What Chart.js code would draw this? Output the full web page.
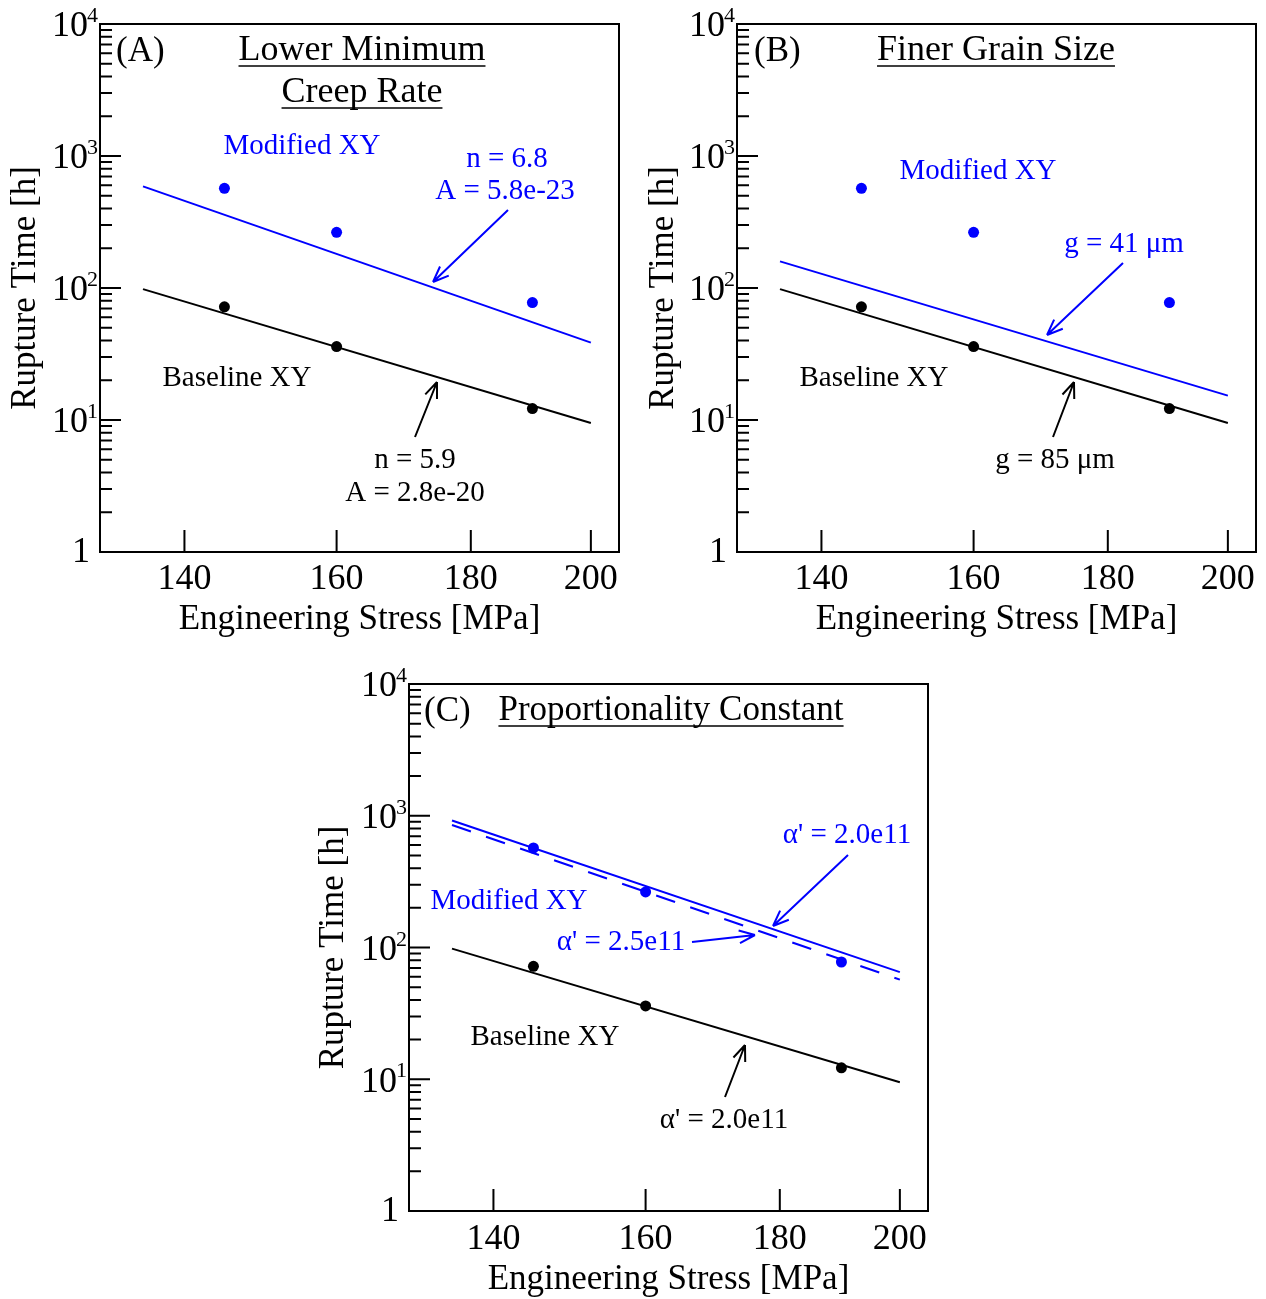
<!DOCTYPE html>
<html>
<head>
<meta charset="utf-8">
<script src="https://cdn.jsdelivr.net/npm/chart.js@4.4.1/dist/chart.umd.min.js"></script>
<style>
body{margin:0;background:#fff;width:1266px;height:1299px;position:relative;overflow:hidden}
canvas{position:absolute}
</style>
</head>
<body>
<canvas id="chartA" width="634" height="645" style="left:0;top:0"></canvas>
<canvas id="chartB" width="630" height="645" style="left:636px;top:0"></canvas>
<canvas id="chartC" width="640" height="644" style="left:300px;top:655px"></canvas>
<script>
// measured rupture times (same data in all three panels)
const stress = [145, 160, 190]
const baselineTime = [72, 36, 12.2]
const modifiedTime = [569, 264, 77.6]

// model curves, evaluated at the ends of the stress range
const fitStress = [135, 200]
const baselineFit = [98, 9.5]
const modifiedFitA = [589, 38.6]
const modifiedFitB = [159, 15.3]
const modifiedFitC = [920, 65]
const modifiedFitC25 = [851, 57]

const xTicks = [140, 160, 180, 200]
const yTicks = [1, 10, 100, 1000, 10000]

const serif = "'Liberation Serif', 'Times New Roman', serif"
const blue = '#0000ff'

function pairs(xs, ys) {
    return xs.map((x, i) => ({x: x, y: ys[i]}))
}

function drawArrow(ctx, a, color) {
    let ang = Math.atan2(a.y2 - a.y1, a.x2 - a.x1)
    ctx.strokeStyle = color
    ctx.lineWidth = 2
    ctx.beginPath()
    ctx.moveTo(a.x1, a.y1)
    ctx.lineTo(a.x2, a.y2)
    for (let s of [-1, 1]) {
        ctx.moveTo(a.x2, a.y2)
        ctx.lineTo(a.x2 - 17 * Math.cos(ang + s * 0.38), a.y2 - 17 * Math.sin(ang + s * 0.38))
    }
    ctx.stroke()
}

// box, inward ticks, 10^n labels and the annotations
const framePlugin = {
    id: 'frame',
    afterDraw(chart, args, opts) {
        let {ctx, chartArea: a, scales: {x, y}} = chart
        ctx.save()
        ctx.strokeStyle = '#000'
        ctx.lineWidth = 2
        ctx.strokeRect(a.left, a.top, a.right - a.left, a.bottom - a.top)
        ctx.beginPath()
        yTicks.forEach(v => {
            let py = y.getPixelForValue(v)
            ctx.moveTo(a.left, py)
            ctx.lineTo(a.left + 21, py)
        })
        for (let d = 1; d < 10000; d *= 10) {
            for (let m = 2; m < 10; m++) {
                let py = y.getPixelForValue(m * d)
                ctx.moveTo(a.left, py)
                ctx.lineTo(a.left + 12, py)
            }
        }
        xTicks.forEach(v => {
            let px = x.getPixelForValue(v)
            ctx.moveTo(px, a.bottom)
            ctx.lineTo(px, a.bottom - 22)
        })
        ctx.stroke()

        ctx.fillStyle = '#000'
        yTicks.forEach(v => {
            let py = y.getPixelForValue(v)
            let e = Math.round(Math.log10(v))
            ctx.font = '36px ' + serif
            ctx.textAlign = 'right'
            ctx.textBaseline = 'middle'
            if (e === 0) {
                ctx.fillText('1', a.left - 10, py + 1)
                return
            }
            ctx.fillText('10', a.left - 12, py + 3)
            ctx.font = '22px ' + serif
            ctx.textBaseline = 'alphabetic'
            ctx.fillText(String(e), a.left - 2, py - 2)
        })

        opts.notes.forEach(n => {
            ctx.font = n.size + 'px ' + serif
            ctx.fillStyle = n.color || '#000'
            ctx.textAlign = n.align || 'center'
            ctx.textBaseline = 'alphabetic'
            let tx = a.left + n.dx, ty = a.top + n.dy
            ctx.fillText(n.text, tx, ty)
            if (n.underline) {
                let w = ctx.measureText(n.text).width
                let x0 = n.align === 'left' ? tx : tx - w / 2
                ctx.strokeStyle = ctx.fillStyle
                ctx.lineWidth = 1.5
                ctx.beginPath()
                ctx.moveTo(x0, ty + 6)
                ctx.lineTo(x0 + w, ty + 6)
                ctx.stroke()
            }
        })
        opts.arrows.forEach(r => drawArrow(ctx, {
            x1: a.left + r.x1, y1: a.top + r.y1, x2: a.left + r.x2, y2: a.top + r.y2
        }, r.color || '#000'))
        ctx.restore()
    }
}

function makePanel(id, cfg) {
    let lines = [{
        data: pairs(fitStress, baselineFit), showLine: true,
        borderColor: '#000', borderWidth: 2, pointRadius: 0
    }]
    cfg.fits.forEach(f => lines.push({
        data: pairs(fitStress, f.values), showLine: true,
        borderColor: blue, borderWidth: 2, borderDash: f.dash || [], pointRadius: 0
    }))
    return new Chart(document.getElementById(id), {
        type: 'scatter',
        data: {
            datasets: [
                {data: pairs(stress, baselineTime), pointRadius: 5.5, backgroundColor: '#000', borderWidth: 0},
                {data: pairs(stress, modifiedTime), pointRadius: 5.5, backgroundColor: blue, borderWidth: 0}
            ].concat(lines)
        },
        options: {
            responsive: false,
            animation: false,
            layout: {padding: {top: cfg.padTop, right: cfg.padRight, left: 0, bottom: 0}},
            plugins: {
                legend: {display: false},
                tooltip: {enabled: false},
                frame: {notes: cfg.notes, arrows: cfg.arrows}
            },
            scales: {
                x: {
                    type: 'logarithmic', min: 130, max: 205,
                    grid: {display: false, drawTicks: false},
                    border: {display: false},
                    afterBuildTicks: s => { s.ticks = xTicks.map(v => ({value: v})) },
                    afterFit: s => { s.height = cfg.xHeight },
                    ticks: {
                        callback: v => String(v), color: '#000', autoSkip: false, maxRotation: 0,
                        padding: cfg.xTickPad, font: {family: serif, size: 36, lineHeight: 1}
                    },
                    title: {
                        display: true, text: 'Engineering Stress [MPa]', color: '#000',
                        font: {family: serif, size: 35, lineHeight: 1},
                        padding: {top: 0, bottom: cfg.xTitlePad}
                    }
                },
                y: {
                    type: 'logarithmic', min: 1, max: 10000,
                    grid: {display: false, drawTicks: false},
                    border: {display: false},
                    ticks: {display: false},
                    afterFit: s => { s.width = cfg.yWidth },
                    title: {
                        display: true, text: 'Rupture Time [h]', color: '#000',
                        font: {family: serif, size: 35, lineHeight: 1},
                        padding: {top: cfg.yTitlePad, bottom: 0}
                    }
                }
            }
        },
        plugins: [framePlugin]
    })
}

makePanel('chartA', {
    padTop: 24, padRight: 15, yWidth: 100, xHeight: 93,
    yTitlePad: 8.5, xTickPad: 10, xTitlePad: 7.5,
    fits: [{values: modifiedFitA}],
    notes: [
        {text: '(A)', dx: 16, dy: 37, size: 35, align: 'left'},
        {text: 'Lower Minimum', dx: 262, dy: 36, size: 36, underline: true},
        {text: 'Creep Rate', dx: 262, dy: 78, size: 36, underline: true},
        {text: 'Modified XY', dx: 202, dy: 130, size: 29, color: blue},
        {text: 'n = 6.8', dx: 407, dy: 143, size: 29, color: blue},
        {text: 'A = 5.8e-23', dx: 405, dy: 175, size: 29, color: blue},
        {text: 'Baseline XY', dx: 137, dy: 362, size: 29},
        {text: 'n = 5.9', dx: 315, dy: 444, size: 29},
        {text: 'A = 2.8e-20', dx: 315, dy: 477, size: 29}
    ],
    arrows: [
        {x1: 408, y1: 186, x2: 333, y2: 258, color: blue},
        {x1: 315, y1: 413, x2: 337, y2: 358}
    ]
})

makePanel('chartB', {
    padTop: 24, padRight: 10, yWidth: 101, xHeight: 93,
    yTitlePad: 10.5, xTickPad: 10, xTitlePad: 7.5,
    fits: [{values: modifiedFitB}],
    notes: [
        {text: '(B)', dx: 17, dy: 37, size: 35, align: 'left'},
        {text: 'Finer Grain Size', dx: 259, dy: 36, size: 36, underline: true},
        {text: 'Modified XY', dx: 241, dy: 155, size: 29, color: blue},
        {text: 'g = 41 μm', dx: 387, dy: 228, size: 29, color: blue},
        {text: 'Baseline XY', dx: 137, dy: 362, size: 29},
        {text: 'g = 85 μm', dx: 318, dy: 444, size: 29}
    ],
    arrows: [
        {x1: 386, y1: 239, x2: 310, y2: 311, color: blue},
        {x1: 316, y1: 413, x2: 337, y2: 358}
    ]
})

makePanel('chartC', {
    padTop: 29, padRight: 12, yWidth: 109, xHeight: 88,
    yTitlePad: 16.5, xTickPad: 11, xTitlePad: 1.5,
    fits: [{values: modifiedFitC}, {values: modifiedFitC25, dash: [20, 16]}],
    notes: [
        {text: '(C)', dx: 15, dy: 37, size: 35, align: 'left'},
        {text: 'Proportionality Constant', dx: 262, dy: 36, size: 35, underline: true},
        {text: "α' = 2.0e11", dx: 438, dy: 159, size: 29, color: blue},
        {text: 'Modified XY', dx: 100, dy: 225, size: 29, color: blue},
        {text: "α' = 2.5e11", dx: 212, dy: 266, size: 29, color: blue},
        {text: 'Baseline XY', dx: 136, dy: 361, size: 29},
        {text: "α' = 2.0e11", dx: 315, dy: 444, size: 29}
    ],
    arrows: [
        {x1: 439, y1: 171, x2: 364, y2: 242, color: blue},
        {x1: 283, y1: 258, x2: 346, y2: 251, color: blue},
        {x1: 316, y1: 413, x2: 336, y2: 361}
    ]
})
</script>
</body>
</html>
